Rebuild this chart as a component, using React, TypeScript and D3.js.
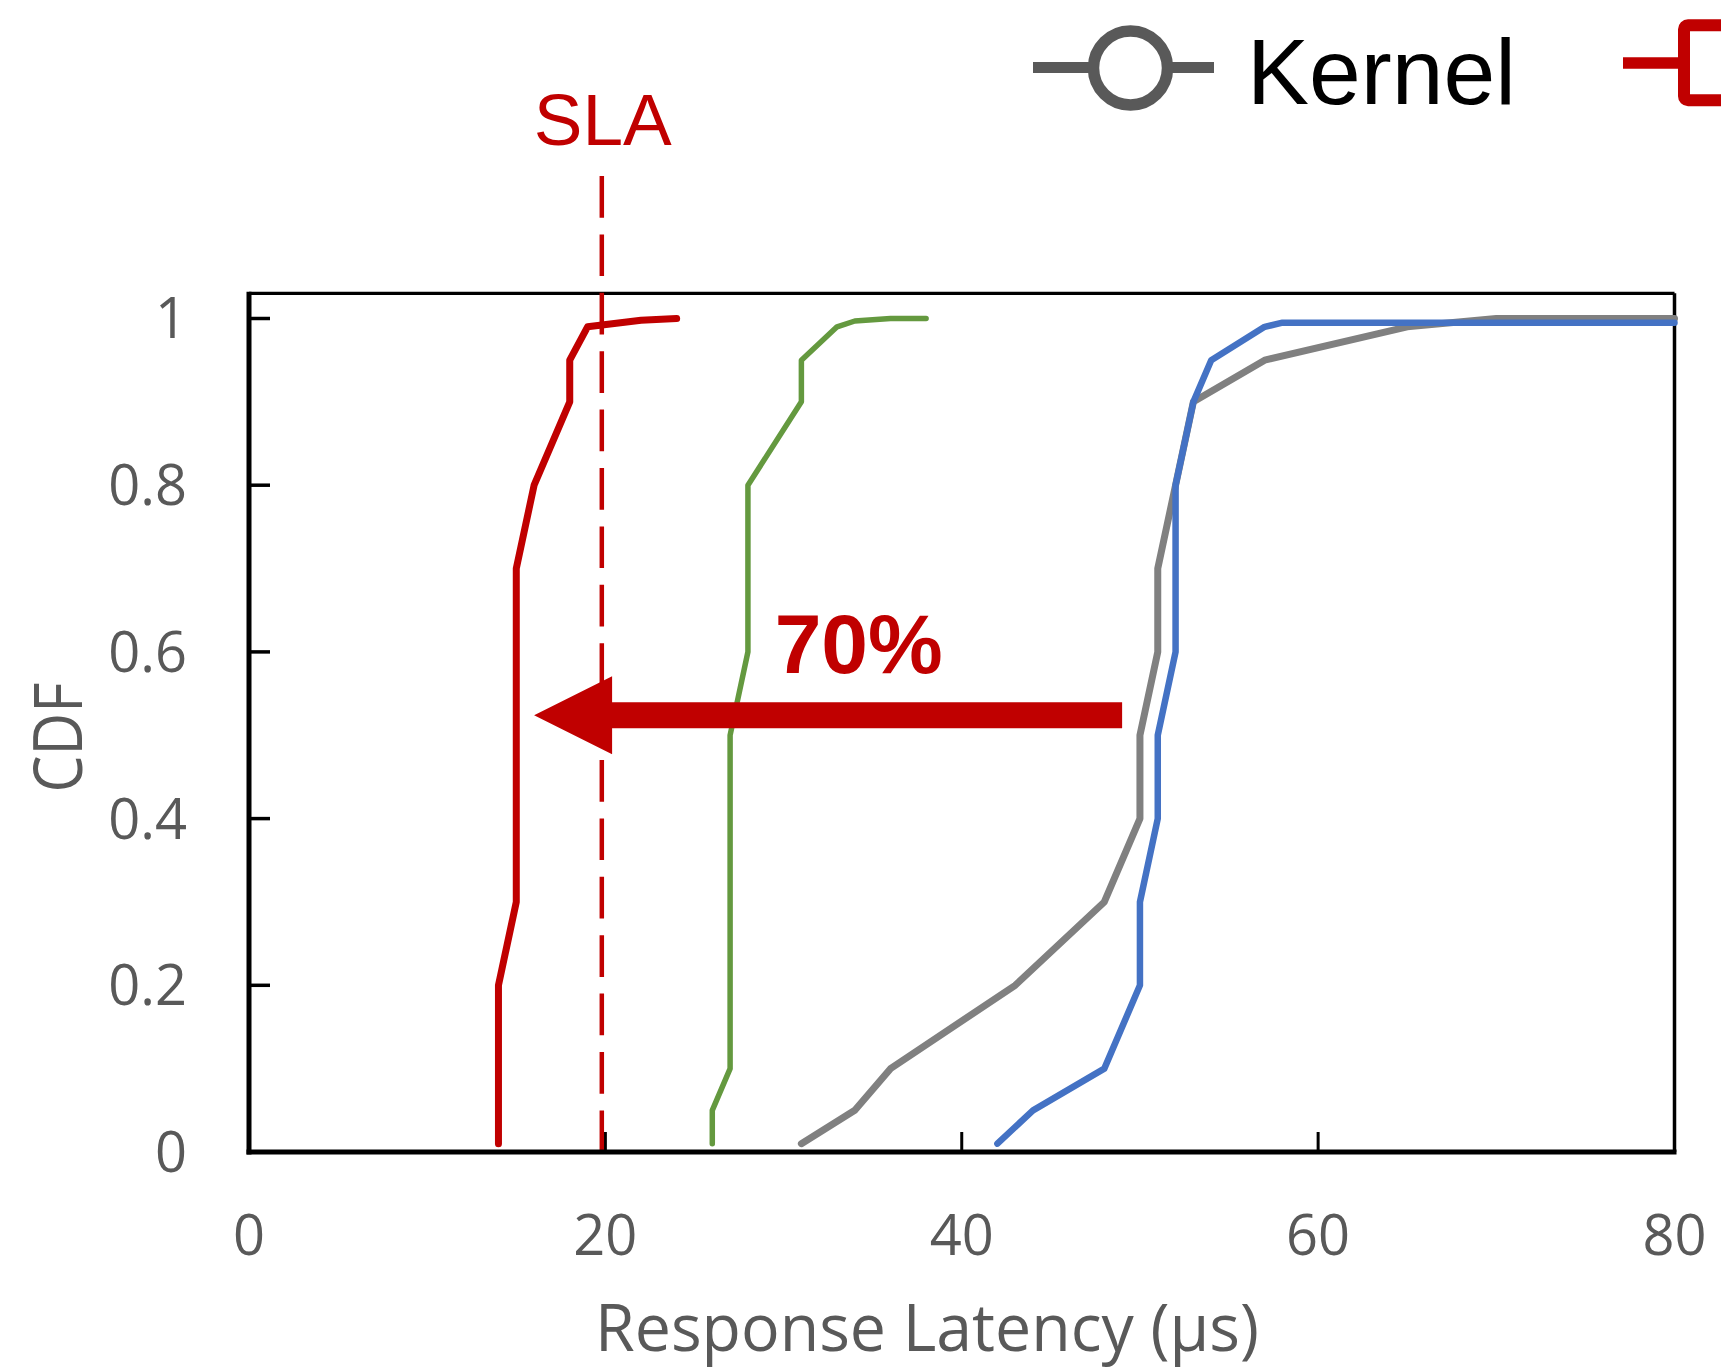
import React from "react";
import * as d3 from "d3";

// ---- data ----
const xTicks = [0, 20, 40, 60, 80];
const yTicks = [0, 0.2, 0.4, 0.6, 0.8, 1];
const yTickLabels = ["0", "0.2", "0.4", "0.6", "0.8", "1"];

const redLatency = [14, 14, 15, 15, 16, 18, 18, 19, 22, 24];
const redCdf = [0.01, 0.2, 0.3, 0.7, 0.8, 0.9, 0.95, 0.99, 0.998, 1.0];

const greenLatency = [26, 26, 27, 27, 28, 28, 31, 31, 33, 34, 36, 38];
const greenCdf = [0.01, 0.05, 0.1, 0.5, 0.6, 0.8, 0.9, 0.95, 0.99, 0.997, 1.0, 1.0];

const kernelLatency = [31, 34, 36, 43, 48, 50, 50, 51, 51, 53, 57, 65, 70, 80];
const kernelCdf = [0.01, 0.05, 0.1, 0.2, 0.3, 0.4, 0.5, 0.6, 0.7, 0.9, 0.95, 0.99, 1.0, 1.0];

const blueLatency = [42, 44, 48, 50, 50, 51, 51, 52, 52, 53, 54, 57, 58, 80];
const blueCdf = [0.01, 0.05, 0.1, 0.2, 0.3, 0.4, 0.5, 0.6, 0.8, 0.9, 0.95, 0.99, 0.995, 0.995];

const slaLatency = 19.8;
const arrowFromLatency = 49;
const arrowToLatency = 16;
const arrowCdf = 0.524;
const improvementLabel = "70%";
const improvementAt = [29.5, 0.575];

const W = 1721;
const H = 1369;

export default function App() {
  const x = d3.scaleLinear().domain([0, 80]).range([249, 1674.5]);
  const y = d3.scaleLinear().domain([0, 1]).range([1152, 318.5]);
  const yTop = y(1.0302);

  const line = d3
    .line<[number, number]>()
    .x((d) => x(d[0]))
    .y((d) => y(d[1]));

  const zip = (a: number[], b: number[]) => a.map((v, i) => [v, b[i]] as [number, number]);

  const series = [
    { pts: zip(kernelLatency, kernelCdf), color: "#808080", w: 7 },
    { pts: zip(blueLatency, blueCdf), color: "#4472C4", w: 6.5 },
    { pts: zip(greenLatency, greenCdf), color: "#64993F", w: 5.5 },
    { pts: zip(redLatency, redCdf), color: "#C00000", w: 7 },
  ];

  const tickFont = "'Open Sans', sans-serif";
  const gray = "#595959";

  // arrow geometry
  const ay = y(arrowCdf);
  const tipX = x(arrowToLatency);
  const endX = x(arrowFromLatency);
  const headLen = 78;
  const headHalf = 39;
  const shaftHalf = 13;
  const arrowPts = [
    [tipX, ay],
    [tipX + headLen, ay - headHalf],
    [tipX + headLen, ay - shaftHalf],
    [endX, ay - shaftHalf],
    [endX, ay + shaftHalf],
    [tipX + headLen, ay + shaftHalf],
    [tipX + headLen, ay + headHalf],
  ]
    .map((p) => p.join(","))
    .join(" ");

  return (
    <svg
      width={W}
      height={H}
      style={{ position: "absolute", left: 0, top: 0, background: "#fff" }}
    >
      <rect x={0} y={0} width={W} height={H} fill="#fff" />

      {/* frame */}
      <line x1={x(0)} x2={x(80)} y1={yTop} y2={yTop} stroke="#000" strokeWidth={3.3} />
      <line x1={x(80)} x2={x(80)} y1={yTop} y2={y(0)} stroke="#000" strokeWidth={3.5} />

      {/* y ticks */}
      {yTicks.map((t) => (
        <line key={"yt" + t} x1={x(0)} x2={x(0) + 21} y1={y(t)} y2={y(t)} stroke="#000" strokeWidth={3.5} />
      ))}
      {/* x ticks */}
      {xTicks.map((t) => (
        <line key={"xt" + t} x1={x(t)} x2={x(t)} y1={y(0)} y2={y(0) - 20} stroke="#000" strokeWidth={3} />
      ))}

      {/* series */}
      {series.map((s, i) => (
        <path
          key={i}
          d={line(s.pts) || ""}
          fill="none"
          stroke={s.color}
          strokeWidth={s.w}
          strokeLinecap="round"
          strokeLinejoin="round"
        />
      ))}

      {/* SLA dashed line */}
      <line
        x1={x(slaLatency)}
        x2={x(slaLatency)}
        y1={176}
        y2={1156}
        stroke="#C00000"
        strokeWidth={4.5}
        strokeDasharray="41.7 16.7"
      />
      <text
        x={x(slaLatency) + 1}
        y={145}
        textAnchor="middle"
        fontFamily="'Liberation Sans', Arial, sans-serif"
        fontSize={73}
        fill="#C00000"
      >
        SLA
      </text>

      {/* arrow */}
      <polygon points={arrowPts} fill="#C00000" />
      <text
        x={x(improvementAt[0])}
        y={y(improvementAt[1])}
        fontFamily="'Liberation Sans', Arial, sans-serif"
        fontWeight="bold"
        fontSize={84}
        fill="#C00000"
      >
        {improvementLabel}
      </text>

      {/* axes lines */}
      <line x1={x(0)} x2={x(0)} y1={yTop - 1.5} y2={y(0) + 2.5} stroke="#000" strokeWidth={5} />
      <line x1={x(0) - 2.5} x2={x(80) + 2} y1={y(0)} y2={y(0)} stroke="#000" strokeWidth={5} />

      {/* y tick labels */}
      {yTicks.map((t, i) => (
        <text
          key={"yl" + t}
          x={187}
          y={y(t)}
          dy="0.357em"
          textAnchor="end"
          fontFamily={tickFont}
          fontSize={56}
          fill={gray}
        >
          {yTickLabels[i]}
        </text>
      ))}
      {/* x tick labels */}
      {xTicks.map((t) => (
        <text
          key={"xl" + t}
          x={x(t)}
          y={1254.5}
          textAnchor="middle"
          fontFamily={tickFont}
          fontSize={56}
          fill={gray}
        >
          {String(t)}
        </text>
      ))}

      {/* axis titles */}
      <text
        x={927}
        y={1351}
        textAnchor="middle"
        fontFamily={tickFont}
        fontSize={66}
        fill={gray}
        textLength={664}
        lengthAdjust="spacingAndGlyphs"
      >
        Response Latency (µs)
      </text>
      <text
        transform="translate(82,737.5) rotate(-90)"
        textAnchor="middle"
        fontFamily={tickFont}
        fontSize={67}
        fill={gray}
        textLength={110}
        lengthAdjust="spacingAndGlyphs"
      >
        CDF
      </text>

      {/* legend */}
      <line x1={1033} x2={1214} y1={67.5} y2={67.5} stroke="#595959" strokeWidth={11} />
      <circle cx={1130.5} cy={68} r={37} fill="#fff" stroke="#595959" strokeWidth={11.5} />
      <text
        x={1247}
        y={103.5}
        fontFamily="'Liberation Sans', Arial, sans-serif"
        fontSize={93}
        fill="#000"
      >
        Kernel
      </text>
      <line x1={1623} x2={1690} y1={63} y2={63} stroke="#C00000" strokeWidth={11.5} />
      <rect x={1684} y={25.3} width={75} height={75} rx={4} fill="#fff" stroke="#C00000" strokeWidth={12} />
    </svg>
  );
}
